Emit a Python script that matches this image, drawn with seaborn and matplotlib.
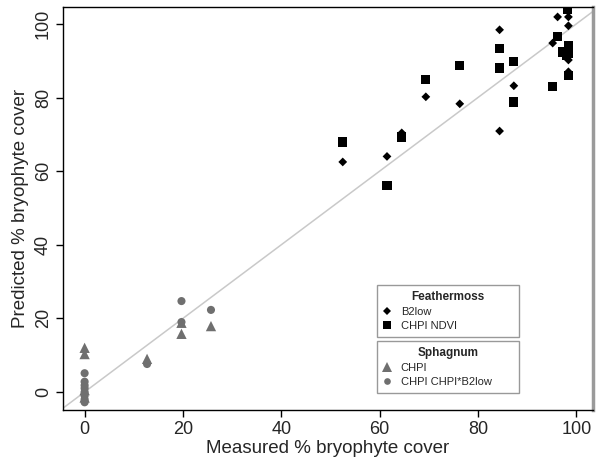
import matplotlib
matplotlib.use("Agg")
import matplotlib.pyplot as plt
import numpy as np
import pandas as pd
import seaborn as sns
from matplotlib.lines import Line2D

# ---- data ----
b2low_x = [52.5, 61.5, 64.5, 69.4, 76.3, 84.4, 84.4, 87.3, 96.2, 98.4, 98.4, 95.2, 98.4, 98.4]
b2low_y = [62.5, 64.0, 70.4, 80.2, 78.3, 98.4, 70.9, 83.2, 101.9, 101.9, 99.5, 94.8, 90.2, 87.0]

ndvi_x = [52.5, 61.5, 64.5, 69.4, 76.3, 84.4, 84.4, 87.3, 87.3, 98.2, 96.2, 95.2, 97.3, 98.4, 98.4, 98.4, 98.0]
ndvi_y = [67.9, 56.0, 69.3, 85.0, 88.6, 93.4, 88.0, 89.8, 78.8, 104.0, 96.5, 82.9, 92.4, 92.0, 94.0, 85.9, 91.5]

chpi_x = [0, 0, 12.7, 19.7, 19.7, 25.7, 0, 0]
chpi_y = [12.0, 10.3, 9.0, 18.8, 15.8, 17.9, 0.5, -1.5]

chpib_x = [0, 0, 0, 0, 0, 0, 0, 0, 12.7, 19.7, 19.7, 25.7]
chpib_y = [5.1, 2.8, 1.8, 1.0, 0.0, -1.0, -2.0, -2.8, 7.6, 24.7, 19.0, 22.3]

series_names = ["B2low", "CHPI NDVI", "CHPI", "CHPI CHPI*B2low"]
group_titles = ["Feathermoss", "Sphagnum"]
xticks = [0, 20, 40, 60, 80, 100]
yticks = [0, 20, 40, 60, 80, 100]

df = pd.concat([
    pd.DataFrame({"x": b2low_x, "y": b2low_y, "series": "B2low"}),
    pd.DataFrame({"x": ndvi_x, "y": ndvi_y, "series": "CHPI NDVI"}),
    pd.DataFrame({"x": chpi_x, "y": chpi_y, "series": "CHPI"}),
    pd.DataFrame({"x": chpib_x, "y": chpib_y, "series": "CHPI CHPI*B2low"}),
], ignore_index=True)

# ---- styles ----
black = "#000000"
gray = "#6f6f6f"
palette = {"B2low": black, "CHPI NDVI": black, "CHPI": gray, "CHPI CHPI*B2low": gray}
markers = {"B2low": "D", "CHPI NDVI": "s", "CHPI": "^", "CHPI CHPI*B2low": "o"}
sizes = {"B2low": 20, "CHPI NDVI": 44, "CHPI": 55, "CHPI CHPI*B2low": 34}
leg_ms = {"B2low": 4.0, "CHPI NDVI": 5.6, "CHPI": 6.8, "CHPI CHPI*B2low": 4.8}

sns.set_theme(style="white")
plt.rcParams["font.family"] = ["Liberation Sans", "DejaVu Sans"]

fig = plt.figure(figsize=(5.97, 4.57), dpi=100)
ax = fig.add_axes([0.1055, 0.1028, 0.8878, 0.8819])

ax.axline((0, 0), slope=1, color="#c9c9c9", lw=1.1, zorder=1)

sns.scatterplot(data=df, x="x", y="y", hue="series", style="series", size="series",
                palette=palette, markers=markers, sizes=sizes,
                hue_order=series_names, style_order=series_names, size_order=series_names,
                linewidth=0, edgecolor="none", legend=False, ax=ax, zorder=3)

ax.set_xlim(-4.4, 103.4)
ax.set_ylim(-4.9, 104.6)
ax.set_xticks(xticks)
ax.set_yticks(yticks)
ax.tick_params(axis="both", which="both", direction="out", length=5, width=1,
               color="black", labelsize=13, bottom=True, left=True, pad=3)
for lab in ax.get_yticklabels():
    lab.set_rotation(90)
    lab.set_va("center")
ax.set_xlabel("Measured % bryophyte cover", fontsize=13.5, labelpad=1)
ax.set_ylabel("Predicted % bryophyte cover", fontsize=13.5, labelpad=4)

for s in ["left", "bottom", "top"]:
    ax.spines[s].set_color("black")
    ax.spines[s].set_linewidth(1.0)
ax.spines["right"].set_color("#9a9a9a")
ax.spines["right"].set_linewidth(2.5)

def handle(name):
    return Line2D([], [], linestyle="none", marker=markers[name], color=palette[name],
                  markersize=leg_ms[name], markeredgewidth=0)

leg_kw = dict(fontsize=8, title_fontsize=8.5, frameon=True, fancybox=False,
              handlelength=0.8, handletextpad=0.8, borderpad=0.55, labelspacing=0.35,
              borderaxespad=0, alignment="center")

leg1 = ax.legend([handle("B2low"), handle("CHPI NDVI")], series_names[:2],
                 title=group_titles[0], loc="upper left",
                 bbox_to_anchor=(0.592, 0.181, 0.268, 0.129), mode="expand", **leg_kw)
leg1.get_title().set_fontweight("bold")
leg1.get_frame().set_edgecolor("#808080")
leg1.get_frame().set_linewidth(1.0)
ax.add_artist(leg1)

leg2 = ax.legend([handle("CHPI"), handle("CHPI CHPI*B2low")], series_names[2:],
                 title=group_titles[1], loc="upper left",
                 bbox_to_anchor=(0.592, 0.045, 0.268, 0.127), mode="expand", **leg_kw)
leg2.get_title().set_fontweight("bold")
leg2.get_frame().set_edgecolor("#808080")
leg2.get_frame().set_linewidth(1.0)

fig.savefig("out.png", dpi=100)
